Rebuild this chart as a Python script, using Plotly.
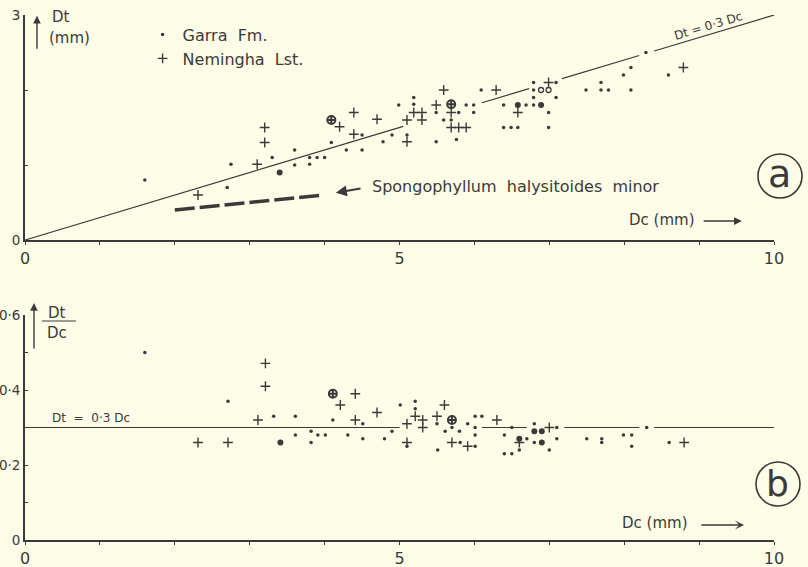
import plotly.graph_objects as go

INK = "#3a3a3a"
BG = "#fdfde7"
FONT = "DejaVu Sans"

# ---------------- Panel (a): Dt vs Dc ----------------
garra_dc = [1.60, 2.70, 2.75, 3.30, 3.60, 3.60, 3.80, 3.80, 3.90, 4.00, 4.09, 4.29, 4.50, 4.50,
            4.78, 4.90, 4.99, 5.10, 5.19, 5.19, 5.49, 5.49, 5.59, 5.69, 5.79, 5.76, 5.89, 5.99,
            5.99, 6.09, 6.39, 6.39, 6.49, 6.58, 6.69, 6.79, 6.79, 6.79, 6.79, 6.99, 6.99, 7.09,
            7.09, 7.49, 7.69, 7.69, 7.79, 8.09, 7.99, 8.09, 8.29, 8.59]
garra_dt = [0.80, 0.70, 1.01, 1.10, 1.20, 1.00, 1.01, 1.10, 1.10, 1.10, 1.30, 1.20, 1.40, 1.20,
            1.31, 1.40, 1.80, 1.40, 1.90, 1.81, 1.31, 1.70, 1.60, 1.60, 1.70, 1.34, 1.80, 1.80,
            1.70, 2.00, 1.80, 1.50, 1.50, 1.50, 1.80, 1.80, 2.10, 2.00, 1.90, 1.70, 1.50, 2.10,
            1.90, 2.00, 2.10, 2.00, 2.00, 2.00, 2.20, 2.30, 2.50, 2.20]
garra_bold_dc = [3.40, 6.58, 6.89]
garra_bold_dt = [0.90, 1.80, 1.80]
garra_ring_dc = [6.89, 6.99]
garra_ring_dt = [2.00, 2.00]

nem_dc = [2.31, 3.10, 3.20, 3.20, 4.20, 4.39, 4.39, 4.70, 5.10, 5.10, 5.19, 5.30, 5.30, 5.49,
          5.59, 5.69, 5.69, 5.79, 5.89, 6.29, 6.58, 6.99, 8.79]
nem_dt = [0.60, 1.01, 1.30, 1.50, 1.51, 1.70, 1.41, 1.61, 1.60, 1.31, 1.70, 1.70, 1.60, 1.80,
          2.00, 1.70, 1.50, 1.50, 1.50, 2.00, 1.70, 2.10, 2.30]
nem_bold_dc = [4.09, 5.69]
nem_bold_dt = [1.60, 1.81]

# Spongophyllum halysitoides minor trend
spongo_dc = [2.0, 3.98]
spongo_dt = [0.40, 0.60]

# ---------------- Panel (b): Dt/Dc vs Dc ----------------
garra_b_dc = [1.60, 2.71, 3.32, 3.61, 3.61, 3.82, 3.82, 3.91, 4.01, 4.11, 4.31, 4.51, 4.51, 4.80,
              4.90, 5.01, 5.21, 5.21, 5.10, 5.50, 5.51, 5.61, 5.70, 5.80, 5.81, 5.91, 6.01, 6.01,
              6.01, 6.01, 6.10, 6.40, 6.40, 6.50, 6.50, 6.60, 6.70, 6.80, 6.80, 7.00, 7.10, 7.10,
              7.50, 7.70, 7.70, 7.99, 8.10, 8.10, 8.30, 8.60]
garra_b_r = [0.50, 0.37, 0.33, 0.33, 0.28, 0.29, 0.26, 0.28, 0.28, 0.32, 0.28, 0.31, 0.27, 0.27,
             0.29, 0.36, 0.37, 0.35, 0.25, 0.31, 0.24, 0.29, 0.30, 0.29, 0.26, 0.31, 0.33, 0.30,
             0.28, 0.25, 0.33, 0.28, 0.23, 0.23, 0.30, 0.24, 0.27, 0.31, 0.26, 0.24, 0.30, 0.27,
             0.27, 0.27, 0.26, 0.28, 0.28, 0.25, 0.30, 0.26]
garra_b_bold_dc = [3.41, 6.60, 6.80, 6.90, 6.90]
garra_b_bold_r = [0.26, 0.27, 0.29, 0.29, 0.26]

nem_b_dc = [2.31, 2.71, 3.21, 3.21, 3.11, 4.41, 4.21, 4.41, 4.70, 5.21, 5.10, 5.31, 5.31, 5.10,
            5.60, 5.50, 5.70, 5.91, 6.30, 6.60, 7.00, 8.80]
nem_b_r = [0.26, 0.26, 0.471, 0.41, 0.32, 0.39, 0.36, 0.32, 0.34, 0.33, 0.31, 0.32, 0.30, 0.26,
           0.36, 0.33, 0.26, 0.25, 0.32, 0.26, 0.30, 0.26]
nem_b_bold_dc = [4.11, 5.70]
nem_b_bold_r = [0.39, 0.32]

# Dt = 0.3 Dc reference line, drawn in pieces (gaps as in the original)
ratio = 0.3
line_pieces_a = [(0, 5.05), (6.1, 6.73), (7.17, 8.2), (8.4, 10)]
line_pieces_b = [(0, 5.0), (6.1, 6.7), (7.2, 8.2), (8.4, 10)]

x_ticks = list(range(11))
x_ticktext = ["0", "", "", "", "", "5", "", "", "", "", "10"]
ya_ticks = [0, 1, 2, 3]
ya_ticktext = ["0", "", "", "3"]
yb_ticks = [0, 0.1, 0.2, 0.3, 0.4, 0.5, 0.6]
yb_ticktext = ["0", "", "0·2", "", "0·4", "", "0·6"]


def pieces(p, fn):
    xs, ys = [], []
    for a, b in p:
        xs += [a, b, None]
        ys += [fn(a), fn(b), None]
    return xs, ys


fig = go.Figure()

dot = dict(symbol="circle", size=3.5, color=INK)
bold = dict(symbol="circle", size=6, color=INK)
ring = dict(symbol="circle-open", size=5, color=INK, line=dict(width=1.3, color=INK))
plus = dict(symbol="cross-thin", size=7, color=INK, line=dict(width=1.4, color=INK))
plus_b = dict(symbol="circle-cross-open", size=8, color=INK, line=dict(width=2, color=INK))

# panel a
lx, ly = pieces(line_pieces_a, lambda v: ratio * v)
fig.add_trace(go.Scatter(x=lx, y=ly, mode="lines", line=dict(color=INK, width=1.2),
                         showlegend=False, hoverinfo="skip", xaxis="x", yaxis="y"))
fig.add_trace(go.Scatter(x=spongo_dc, y=spongo_dt, mode="lines",
                         line=dict(color=INK, width=3.5, dash="20px,5px"),
                         showlegend=False, xaxis="x", yaxis="y"))
fig.add_trace(go.Scatter(x=garra_dc, y=garra_dt, mode="markers", marker=dot,
                         name="Garra  Fm.", xaxis="x", yaxis="y", cliponaxis=False))
fig.add_trace(go.Scatter(x=nem_dc, y=nem_dt, mode="markers", marker=plus,
                         name="Nemingha  Lst.", xaxis="x", yaxis="y", cliponaxis=False))
fig.add_trace(go.Scatter(x=garra_bold_dc, y=garra_bold_dt, mode="markers", marker=bold,
                         showlegend=False, xaxis="x", yaxis="y"))
fig.add_trace(go.Scatter(x=garra_ring_dc, y=garra_ring_dt, mode="markers", marker=ring,
                         showlegend=False, xaxis="x", yaxis="y"))
fig.add_trace(go.Scatter(x=nem_bold_dc, y=nem_bold_dt, mode="markers", marker=plus_b,
                         showlegend=False, xaxis="x", yaxis="y"))

# panel b
lx, ly = pieces(line_pieces_b, lambda v: ratio)
fig.add_trace(go.Scatter(x=lx, y=ly, mode="lines", line=dict(color=INK, width=1.2),
                         showlegend=False, hoverinfo="skip", xaxis="x2", yaxis="y2"))
fig.add_trace(go.Scatter(x=garra_b_dc, y=garra_b_r, mode="markers", marker=dot,
                         showlegend=False, xaxis="x2", yaxis="y2", cliponaxis=False))
fig.add_trace(go.Scatter(x=nem_b_dc, y=nem_b_r, mode="markers", marker=plus,
                         showlegend=False, xaxis="x2", yaxis="y2", cliponaxis=False))
fig.add_trace(go.Scatter(x=garra_b_bold_dc, y=garra_b_bold_r, mode="markers", marker=bold,
                         showlegend=False, xaxis="x2", yaxis="y2"))
fig.add_trace(go.Scatter(x=nem_b_bold_dc, y=nem_b_bold_r, mode="markers", marker=plus_b,
                         showlegend=False, xaxis="x2", yaxis="y2"))

axis_common = dict(showline=True, linecolor=INK, linewidth=1.8, showgrid=False, zeroline=False,
                   ticks="outside", ticklen=3, tickcolor=INK, tickwidth=1.2, automargin=False,
                   tickfont=dict(family=FONT, size=16, color=INK))
y_common = dict(axis_common, ticks="inside", ticklen=3,
                tickfont=dict(family=FONT, size=13.5, color=INK))

ann = []
def text(s, x, y, xref="x", yref="y", size=15, xanchor="left", angle=0):
    ann.append(dict(text=s, x=x, y=y, xref=xref, yref=yref, showarrow=False, xanchor=xanchor,
                    yanchor="middle", textangle=angle,
                    font=dict(family=FONT, size=size, color=INK)))

def arrow(x, y, ax, ay, xref="x", yref="y", head=2, width=1.4, pixel=False):
    axref = "pixel" if pixel else xref
    ayref = "pixel" if pixel else yref
    ann.append(dict(text="", x=x, y=y, ax=ax, ay=ay, xref=xref, yref=yref, axref=axref,
                    ayref=ayref, showarrow=True, arrowhead=head, arrowsize=1.1,
                    arrowwidth=width, arrowcolor=INK))

P = "paper"
# panel a labels
text("Dt", 0.33, 2.97)
text("(mm)", 0.29, 2.69)
arrow(0.16, 2.99, 0.16, 2.53)
text("Spongophyllum  halysitoides  minor", 4.61, 0.707, size=16)
arrow(4.15, 0.63, 4.50, 0.69, width=2)
text("Dc (mm)", 8.97, 0.267, xanchor="right")
arrow(9.57, 0.253, 9.04, 0.253)
text("Dt = 0·3 Dc", 9.12, 2.86, size=12, xanchor="center", angle=-16.7)
text("a", 1.008, 0.697, xref=P, yref=P, size=38, xanchor="center")

# panel b labels
text("Dt", 0.0427, 0.4324, xref=P, yref=P, xanchor="center")
text("Dc", 0.0427, 0.3943, xref=P, yref=P, xanchor="center")
arrow(0.012, 0.4514, 0, 47, xref=P, yref=P, pixel=True)
text("Dt  =  0·3 Dc", 0.33, 0.325, xref="x2", yref="y2", size=12)
text("Dc (mm)", 8.88, 0.045, xref="x2", yref="y2", xanchor="right")
arrow(9.60, 0.04, 9.01, 0.04, xref="x2", yref="y2", head=3)
text("b", 1.0053, 0.1067, xref=P, yref=P, size=36, xanchor="center")

shapes = [
    dict(type="line", xref=P, yref=P, x0=0.0227, x1=0.0681, y0=0.4171, y1=0.4171,
         line=dict(color=INK, width=1.2)),
    dict(type="circle", xref=P, yref=P, x0=0.9786, x1=1.0374, y0=0.6514, y1=0.7352,
         line=dict(color=INK, width=1.6)),
    dict(type="circle", xref=P, yref=P, x0=0.976, x1=1.0347, y0=0.0648, y1=0.1486,
         line=dict(color=INK, width=1.6)),
]

fig.update_layout(
    width=808, height=567,
    margin=dict(l=25, r=34, t=15, b=27),
    paper_bgcolor=BG, plot_bgcolor=BG,
    font=dict(family=FONT, color=INK),
    xaxis=dict(axis_common, domain=[0, 1], anchor="y", range=[0, 10],
               tickvals=x_ticks, ticktext=x_ticktext),
    yaxis=dict(y_common, domain=[0.5714, 1.0], anchor="x", range=[0, 3],
               tickvals=ya_ticks, ticktext=ya_ticktext),
    xaxis2=dict(axis_common, domain=[0, 1], anchor="y2", range=[0, 10],
                tickvals=x_ticks, ticktext=x_ticktext),
    yaxis2=dict(y_common, domain=[0, 0.42857], anchor="x2", range=[0, 0.6],
                tickvals=yb_ticks, ticktext=yb_ticktext),
    showlegend=True,
    legend=dict(x=0.157, y=0.995, xanchor="left", yanchor="top", bgcolor="rgba(0,0,0,0)",
                font=dict(family=FONT, size=16, color=INK), itemwidth=30,
                tracegroupgap=0),
    annotations=ann,
    shapes=shapes,
)

fig.write_html("out.html")
